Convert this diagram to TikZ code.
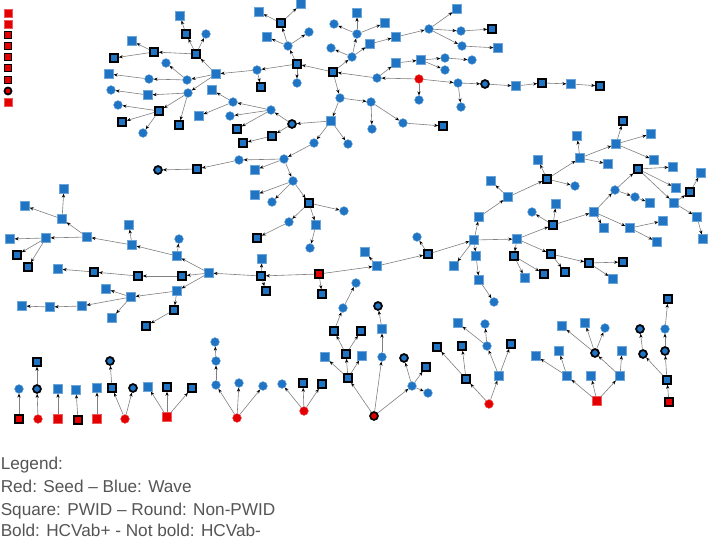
\documentclass[tikz,border=0pt]{standalone}
\usepackage{fontspec}
\setmainfont{Liberation Sans}
\usetikzlibrary{arrows.meta}
\definecolor{nblue}{RGB}{31,116,196}
\definecolor{nred}{RGB}{228,0,0}
\definecolor{lgray}{RGB}{128,128,128}
\definecolor{tgray}{RGB}{85,85,85}
\tikzset{
  nd/.style={inner sep=0pt, minimum size=6.6pt},
  sq/.style={nd, rectangle, fill=nblue, draw=nblue!65!white, line width=0.3pt},
  sqb/.style={nd, rectangle, fill=nblue, draw=black, line width=1.3pt, minimum size=5.9pt},
  ci/.style={nd, circle, fill=nblue, draw=nblue!65!white, line width=0.3pt},
  cib/.style={nd, circle, fill=nblue, draw=black, line width=1.3pt, minimum size=5.9pt},
  rsq/.style={sq, fill=nred, draw=nred!65!white},
  rsqb/.style={sqb, fill=nred},
  rci/.style={ci, fill=nred, draw=nred!65!white},
  rcib/.style={cib, fill=nred},
  lnk/.style={draw=lgray, line width=0.45pt, -{Stealth[length=3pt,width=2.4pt,color=black]}},
  legtxt/.style={anchor=base west, inner sep=0pt, text=tgray, font=\fontsize{12.9}{15}\selectfont}
}
\begin{document}
\begin{tikzpicture}[x=0.75pt,y=-0.75pt]
\useasboundingbox (0,0) rectangle (708,538);
\fill[white] (0,0) rectangle (708,538);
% isolated seeds
\node[rsq,minimum size=6pt] (r1) at (8,13) {};
\node[rsq,minimum size=6pt] (r2) at (8,24) {};
\node[rsqb,minimum size=5.3pt] (r3) at (8,35) {};
\node[rsqb,minimum size=5.3pt] (r4) at (8,46) {};
\node[rsqb,minimum size=5.3pt] (r5) at (8,57) {};
\node[rsqb,minimum size=5.3pt] (r6) at (8,68) {};
\node[rsqb,minimum size=5.3pt] (r7) at (8,80) {};
\node[rcib,minimum size=5.3pt] (r8) at (8,91) {};
\node[rsq,minimum size=6pt] (r9) at (8,102) {};
% A
\node[sq] (A1) at (180,16) {};
\node[sqb] (A2) at (186,34) {};
\node[ci] (A3) at (206,34) {};
\node[sq] (A4) at (132,41) {};
\node[sqb] (A5) at (154,52) {};
\node[sqb] (A6) at (196,54) {};
\node[sqb] (A7) at (114,58) {};
\node[ci] (A8) at (166,63) {};
\node[sq] (A9) at (216,74) {};
\node[sq] (A10) at (109,74) {};
\node[ci] (A11) at (149,79) {};
\node[ci] (A12) at (187,80) {};
\node[ci] (A13) at (111,90) {};
\node[ci] (A14) at (188,93) {};
\node[sq] (A15) at (148,95) {};
\node[sq] (A16) at (212,90) {};
\node[ci] (A17) at (233,102) {};
\node[ci] (A18) at (118,105) {};
\node[sqb] (A19) at (159,111) {};
\node[sq] (A20) at (199,116) {};
\node[ci] (A21) at (230,116) {};
\node[sqb] (A22) at (122,122) {};
\node[sqb] (A23) at (179,125) {};
\node[ci] (A24) at (143,133) {};
\node[sqb] (A25) at (237,129) {};
\node[ci] (A26) at (239,160) {};
\node[sqb] (A27) at (197,169) {};
\node[cib] (A28) at (158,170) {};
% B
\node[sq] (B1) at (259,12) {};
\node[sq] (B2) at (301,4) {};
\node[sqb] (B3) at (281,23) {};
\node[sq] (B4) at (267,37) {};
\node[ci] (B5) at (309,32) {};
\node[ci] (B6) at (288,46) {};
\node[sqb] (B7) at (297,64) {};
\node[ci] (B8) at (257,70) {};
\node[sqb] (B9) at (261,87) {};
\node[ci] (B10) at (297,83) {};
\node[sqb] (B11) at (333,72) {};
\node[sq] (B12) at (357,13) {};
\node[ci] (B13) at (334,24) {};
\node[sq] (B14) at (385,23) {};
\node[ci] (B15) at (357,34) {};
\node[sq] (B16) at (370,44) {};
\node[ci] (B17) at (331,48) {};
\node[ci] (B18) at (352,57) {};
\node[sq] (B19) at (396,37) {};
\node[ci] (B20) at (429,29) {};
\node[sq] (B21) at (457,9) {};
\node[ci] (B22) at (461,31) {};
\node[ci] (B23) at (462,46) {};
\node[sq] (B24) at (396,63) {};
\node[sq] (B25) at (421,60) {};
\node[ci] (B26) at (445,58) {};
\node[ci] (B27) at (472,60) {};
\node[ci] (B28) at (445,70) {};
\node[ci] (B29) at (377,78) {};
\node[rci] (B30) at (419,79) {};
\node[ci] (B31) at (419,100) {};
\node[ci] (B32) at (458,83) {};
\node[ci] (B33) at (461,107) {};
\node[ci] (B34) at (340,98) {};
\node[ci] (B35) at (371,102) {};
\node[ci] (B36) at (372,129) {};
\node[ci] (B37) at (403,123) {};
\node[sqb] (B38) at (443,126) {};
\node[sq] (B39) at (331,121) {};
\node[cib] (B40) at (292,124) {};
\node[ci] (B41) at (271,110) {};
\node[ci] (B42) at (314,143) {};
\node[ci] (B43) at (348,144) {};
\node[ci] (B44) at (284,159) {};
\node[sq] (B46) at (255,170) {};
\node[ci] (B47) at (293,181) {};
\node[sqb] (B48) at (272,136) {};
\node[sqb] (B49) at (243,143) {};
% C
\node[sqb] (C1) at (492,29) {};
\node[sq] (C2) at (498,48) {};
\node[cib] (C4) at (485,84) {};
\node[sq] (C5) at (516,86) {};
\node[sqb] (C6) at (542,83) {};
\node[sq] (C7) at (571,84) {};
\node[sqb] (C8) at (600,86) {};
% D
\node[sqb] (D1) at (623,121) {};
\node[sq] (D2) at (651,134) {};
\node[sq] (D3) at (577,136) {};
\node[sq] (D4) at (616,144) {};
\node[sq] (D5) at (580,158) {};
\node[sq] (D6) at (654,160) {};
\node[sq] (D7) at (538,160) {};
\node[sq] (D8) at (608,164) {};
\node[sqb] (D9) at (638,169) {};
\node[sq] (D10) at (673,167) {};
\node[sqb] (D11) at (547,179) {};
\node[sq] (D12) at (701,173) {};
\node[sq] (D13) at (491,181) {};
\node[ci] (D14) at (575,186) {};
\node[sq] (D15) at (676,188) {};
\node[ci] (D16) at (615,190) {};
\node[sqb] (D17) at (690,192) {};
\node[ci] (D18) at (635,197) {};
\node[sq] (D19) at (508,197) {};
\node[sq] (D20) at (650,203) {};
\node[sq] (D21) at (674,203) {};
\node[sq] (D22) at (556,204) {};
\node[ci] (D23) at (532,212) {};
\node[sq] (D24) at (594,212) {};
\node[sq] (D25) at (479,217) {};
\node[sq] (D26) at (697,217) {};
\node[sqb] (D27) at (553,225) {};
\node[sq] (D28) at (663,221) {};
\node[sq] (D29) at (604,228) {};
\node[sq] (D30) at (630,228) {};
\node[sq] (D31) at (703,239) {};
\node[sq] (D32) at (474,240) {};
\node[sq] (D33) at (517,239) {};
\node[sq] (D34) at (657,242) {};
\node[sqb] (D35) at (514,256) {};
\node[sq] (D36) at (476,256) {};
\node[sqb] (D37) at (551,254) {};
\node[sqb] (D38) at (589,263) {};
\node[sqb] (D39) at (623,262) {};
\node[sq] (D40) at (525,278) {};
\node[sqb] (D41) at (544,274) {};
\node[sqb] (D42) at (565,272) {};
\node[sq] (D43) at (613,279) {};
\node[sq] (D44) at (479,280) {};
\node[ci] (D45) at (494,302) {};
% E
\node[sq] (E5) at (255,195) {};
\node[ci] (E6) at (272,202) {};
\node[sqb] (E7) at (309,203) {};
\node[ci] (E8) at (344,211) {};
\node[ci] (E9) at (289,222) {};
\node[sq] (E10) at (316,225) {};
\node[sqb] (E11) at (257,238) {};
\node[ci] (E12) at (310,248) {};
\node[sq] (E13) at (262,259) {};
\node[sqb] (E14) at (261,276) {};
\node[sqb] (E15) at (266,291) {};
\node[rsqb] (E16) at (319,274) {};
\node[sqb] (E17) at (322,294) {};
\node[sq] (E18) at (377,266) {};
\node[sq] (E19) at (365,252) {};
\node[sqb] (E20) at (428,254) {};
\node[ci] (E21) at (417,237) {};
\node[sq] (E24) at (454,266) {};
% I
\node[sq] (I1) at (64,189) {};
\node[sq] (I2) at (25,206) {};
\node[sq] (I3) at (62,219) {};
\node[sq] (I4) at (129,225) {};
\node[sq] (I5) at (87,237) {};
\node[sq] (I6) at (10,239) {};
\node[sq] (I7) at (46,238) {};
\node[ci] (I8) at (179,239) {};
\node[sq] (I9) at (132,245) {};
\node[sqb] (I10) at (17,255) {};
\node[sq] (I11) at (177,256) {};
\node[sqb] (I12) at (28,267) {};
\node[sq] (I13) at (58,269) {};
\node[sqb] (I14) at (94,272) {};
\node[sqb] (I15) at (138,276) {};
\node[sqb] (I16) at (182,276) {};
\node[sq] (I17) at (209,273) {};
\node[sq] (I18) at (106,289) {};
\node[sq] (I19) at (177,291) {};
\node[sq] (I20) at (131,297) {};
\node[sq] (I21) at (22,306) {};
\node[sq] (I22) at (50,307) {};
\node[sq] (I23) at (82,306) {};
\node[sqb] (I24) at (174,310) {};
\node[sq] (I25) at (112,318) {};
\node[sqb] (I26) at (146,326) {};
% F
\node[ci] (E26) at (356,283) {};
\node[ci] (E27) at (343,308) {};
\node[sqb] (E28) at (334,331) {};
\node[sqb] (E29) at (361,331) {};
\node[cib] (E30) at (378,306) {};
\node[sq] (E31) at (382,329) {};
\node[sq] (F11) at (325,357) {};
\node[sqb] (F12) at (346,354) {};
\node[sq] (F13) at (362,356) {};
\node[ci] (F14) at (382,357) {};
\node[sqb] (F15) at (348,378) {};
\node[cib] (F16) at (404,358) {};
\node[sqb] (F17) at (426,367) {};
\node[ci] (F18) at (412,386) {};
\node[ci] (F19) at (428,393) {};
\node[rcib] (F20) at (374,416) {};
\node[sq] (E32) at (458,323) {};
\node[sqb] (F22) at (437,347) {};
\node[sqb] (F23) at (462,346) {};
\node[sqb] (F24) at (466,379) {};
\node[rci] (Gr) at (489,404) {};
\node[sq] (Gs) at (499,376) {};
\node[ci] (Gc1) at (487,346) {};
\node[ci] (Gc2) at (485,324) {};
\node[sqb] (Gsb) at (511,344) {};
% G
\node[sq] (G1) at (562,326) {};
\node[sq] (G2) at (585,323) {};
\node[ci] (G3) at (605,328) {};
\node[cib] (G4) at (595,353) {};
\node[sq] (G5) at (536,356) {};
\node[sq] (G6) at (559,351) {};
\node[sq] (G7) at (622,351) {};
\node[sq] (G8) at (567,376) {};
\node[sq] (G9) at (591,376) {};
\node[sq] (G10) at (620,376) {};
\node[rsq] (G11) at (597,401) {};
\node[sqb] (G12) at (668,299) {};
\node[cib] (G13) at (640,329) {};
\node[ci] (G14) at (665,329) {};
\node[cib] (G15) at (643,354) {};
\node[cib] (G16) at (665,351) {};
\node[sqb] (G17) at (667,380) {};
\node[rsqb] (G18) at (669,402) {};
% H
\node[ci] (H1) at (19,389) {};
\node[rsqb] (H2) at (19,419) {};
\node[sqb] (H3) at (37,362) {};
\node[cib] (H4) at (37,389) {};
\node[rci] (H5) at (38,419) {};
\node[sq] (H6) at (58,389) {};
\node[rsq] (H7) at (58,419) {};
\node[sq] (H8) at (76,390) {};
\node[rsqb] (H9) at (78,420) {};
\node[sq] (H10) at (97,388) {};
\node[rsq] (H11) at (97,419) {};
\node[cib] (H12) at (110,361) {};
\node[sqb] (H13) at (112,388) {};
\node[cib] (H14) at (133,388) {};
\node[rci] (H15) at (125,419) {};
\node[sq] (H16) at (148,387) {};
\node[sqb] (H17) at (167,387) {};
\node[sqb] (H18) at (192,388) {};
\node[rsq] (H19) at (167,417) {};
\node[ci] (H20) at (215,342) {};
\node[ci] (H21) at (216,361) {};
\node[ci] (H22) at (216,385) {};
\node[ci] (F26) at (239,383) {};
\node[ci] (F27) at (263,386) {};
\node[rci] (F25) at (237,418) {};
\node[ci] (F28) at (282,384) {};
\node[sqb] (F29) at (303,383) {};
\node[sqb] (F30) at (322,384) {};
\node[rci] (F31) at (304,411) {};
% edges
\foreach \a/\b in {A2/A1,A6/A2,A6/A3,A5/A4,A6/A5,A5/A7,A9/A6,A12/A8,A9/A12,A12/A11,A11/A10,
  A9/A14,A14/A15,A15/A13,A14/A19,A19/A18,A19/A22,A19/A24,A14/A23,A17/A16,A17/A20,A26/A27,A27/A28,
  B3/B1,B3/B2,B6/B3,B6/B4,B6/B5,B7/B6,B7/B8,B7/B10,B8/B9,B8/A9,B11/B7,B11/B18,B18/B17,B18/B15,
  B15/B13,B15/B12,B15/B14,B18/B16,B16/B19,B19/B20,B20/B21,B20/B22,B20/B23,B22/C1,B23/C2,
  B29/B11,B30/B29,B29/B24,B24/B25,B25/B26,B25/B28,B26/B27,B30/B31,B30/B32,B32/B33,B32/C4,
  B11/B34,B34/B35,B35/B36,B35/B37,B37/B38,B34/B39,B39/B40,B40/B41,B41/A17,B41/A21,B41/A25,
  B40/B48,B48/B49,B39/B42,B39/B43,B42/B44,B44/A26,B44/B46,B44/B47,
  C4/C5,C5/C6,C6/C7,C7/C8,
  D19/D13,D25/D19,D19/D11,D11/D7,D11/D14,D11/D5,D5/D3,D5/D8,D5/D4,D4/D1,D4/D2,D4/D6,
  D32/D25,D32/D33,D32/D36,D36/D44,D44/D45,D33/D35,D35/D40,D35/D41,D33/D37,D37/D42,D37/D38,
  D38/D39,D38/D43,D33/D27,D27/D23,D27/D22,D27/D24,D24/D16,D24/D29,D24/D30,D30/D28,D30/D34,
  D16/D9,D16/D18,D18/D20,D9/D10,D9/D15,D9/D21,D21/D17,D17/D12,D21/D26,D26/D31,D32/E24,
  B47/E5,B47/E6,B47/E7,E7/E8,E7/E9,E7/E10,E9/E11,E10/E12,E16/E14,E14/E13,E14/E15,E16/E17,
  E16/E18,E18/E19,E18/E20,E20/E21,E20/D32,E14/I17,
  I17/I11,I17/I16,I17/I19,I11/I8,I11/I9,I9/I4,I9/I5,I5/I3,I3/I1,I3/I2,I5/I7,I7/I6,I7/I10,
  I7/I12,I16/I15,I15/I14,I14/I13,I19/I20,I19/I24,I20/I18,I20/I25,I20/I23,I23/I22,I22/I21,I24/I26,
  F20/F15,F15/F11,F15/F12,F15/F13,F12/E28,F12/E29,E28/E27,E27/E26,F20/F14,F14/E31,E31/E30,
  F20/F18,F18/F16,F18/F17,F18/F19,
  Gr/F24,F24/F22,F24/F23,Gr/Gs,Gs/Gc1,Gc1/Gc2,Gs/Gsb,Gc1/E32,
  G11/G8,G11/G9,G11/G10,G8/G5,G8/G6,G10/G4,G10/G7,G4/G1,G4/G2,G4/G3,
  G18/G17,G17/G15,G17/G16,G15/G13,G16/G14,G14/G12,
  H2/H1,H5/H4,H4/H3,H7/H6,H9/H8,H11/H10,H15/H13,H13/H12,H15/H14,H19/H16,H19/H17,H19/H18,
  F25/H22,F25/F26,F25/F27,H22/H21,H21/H20,F31/F28,F31/F29,F31/F30}
  \draw[lnk] (\a) -- (\b);
% legend
\node[legtxt] (L1) at (0.5,470) {Legend:};
\node[legtxt] (L2) at (0.5,493) {Red: Seed – Blue: Wave};
\node[legtxt] (L3) at (0.5,516) {Square: PWID – Round: Non-PWID};
\node[legtxt] (L4) at (0.5,537) {Bold: HCVab+ - Not bold: HCVab-};
\end{tikzpicture}
\end{document}
